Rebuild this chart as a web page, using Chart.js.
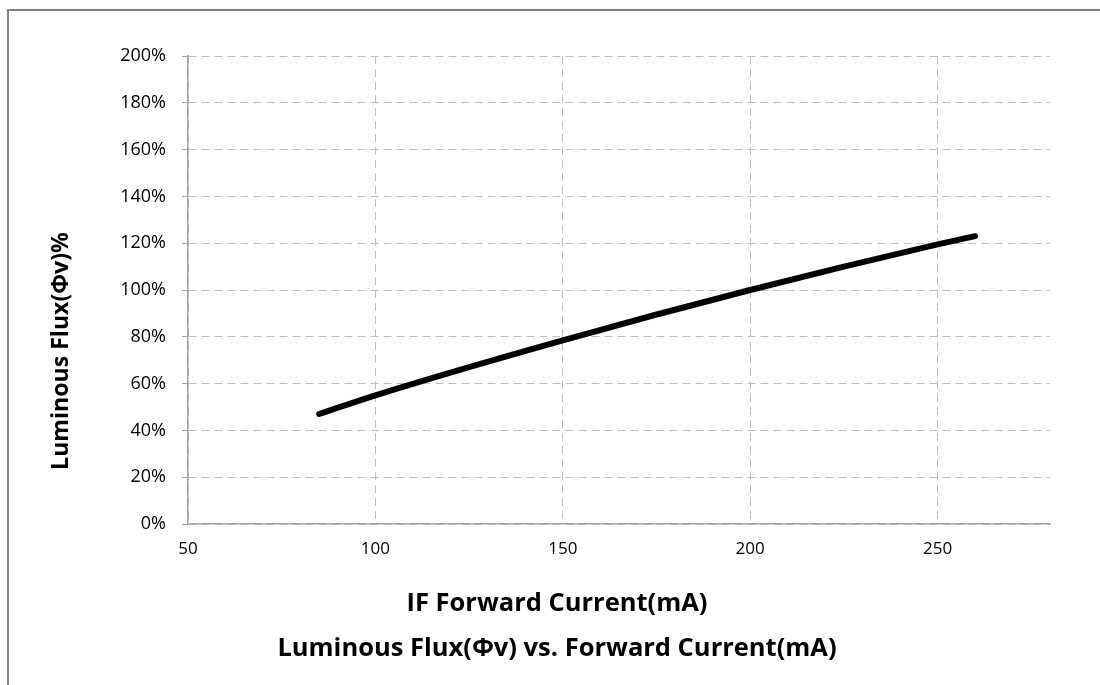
<!DOCTYPE html>
<html>
<head>
<meta charset="utf-8">
<script src="https://cdn.jsdelivr.net/npm/chart.js@4"></script>
<style>
  html, body { margin:0; padding:0; background:#fff; overflow:hidden; }
  #wrap { position:relative; width:1100px; height:685px; }
  #frame { position:absolute; left:7px; top:9px; width:1200px; height:800px; border:2px solid #808080; box-sizing:border-box; }
  canvas { position:absolute; left:0; top:0; }
</style>
</head>
<body>
<div id="wrap">
  <div id="frame"></div>
  <canvas id="c" width="1100" height="685"></canvas>
</div>
<script>
/* ── DATA ── */
const currentMA = [85, 100, 150, 200, 250, 260];
const fluxPct   = [47, 55, 78.5, 100, 119.5, 123];
const xTicks    = [50, 100, 150, 200, 250];
const yTicks    = [0, 20, 40, 60, 80, 100, 120, 140, 160, 180, 200];

const FONT = "'Open Sans', 'Noto Sans', sans-serif";
const GRID = "#bfbfbf";
const AXIS = "#a6a6a6";

/* size a bold title so it spans roughly the same width as the original */
function fitFont(ctx, text, width) {
  ctx.font = "bold 20px " + FONT;
  const s = 20 * width / ctx.measureText(text).width;
  return "bold " + s.toFixed(1) + "px " + FONT;
}

/* ── TITLES (centred on frame, like the Excel original) ── */
const titlesPlugin = {
  id: "titles",
  afterDraw(chart) {
    const ctx = chart.ctx;
    const xt = "IF Forward Current(mA)";
    const ct = "Luminous Flux(Φv) vs. Forward Current(mA)";
    const yt = "Luminous Flux(Φv)%";
    ctx.save();
    ctx.fillStyle = "#000";
    ctx.textAlign = "center";
    ctx.textBaseline = "middle";
    ctx.font = fitFont(ctx, xt, 301);
    ctx.fillText(xt, 557, 604);
    ctx.font = fitFont(ctx, ct, 560);
    ctx.fillText(ct, 557, 649);
    ctx.font = fitFont(ctx, yt, 238);
    ctx.translate(61, 351);
    ctx.rotate(-Math.PI / 2);
    ctx.fillText(yt, 0, 0);
    ctx.restore();
  }
};

new Chart(document.getElementById("c"), {
  type: "line",
  data: {
    datasets: [{
      data: currentMA.map((x, i) => ({ x, y: fluxPct[i] })),
      borderColor: "#000",
      borderWidth: 6,
      borderCapStyle: "round",
      borderJoinStyle: "round",
      cubicInterpolationMode: "monotone",
      pointRadius: 0,
      fill: false
    }]
  },
  options: {
    responsive: false,
    animation: false,
    layout: { padding: { left: 0, top: 56, right: 50, bottom: 0 } },
    plugins: { legend: { display: false }, tooltip: { enabled: false } },
    scales: {
      x: {
        type: "linear", min: 50, max: 280,
        afterBuildTicks: s => { s.ticks = xTicks.map(v => ({ value: v })); },
        afterFit: s => { s.height = 161; },
        border: { display: true, color: AXIS, width: 1.5, dash: [8, 5] },
        grid: { color: GRID, lineWidth: 1, tickLength: 0, drawTicks: false },
        ticks: { color: "#000", font: { family: FONT, size: 17 }, padding: 15, maxRotation: 0 }
      },
      y: {
        min: 0, max: 200,
        afterBuildTicks: s => { s.ticks = yTicks.map(v => ({ value: v })); },
        afterFit: s => { s.width = 188; },
        border: { display: true, color: AXIS, width: 1.5, dash: [8, 5] },
        grid: { color: GRID, lineWidth: 1, tickLength: 6, tickColor: AXIS, tickBorderDash: [] },
        ticks: { color: "#000", font: { family: FONT, size: 18 }, padding: 16, callback: v => v + "%" }
      }
    }
  },
  plugins: [titlesPlugin]
});
</script>
</body>
</html>
